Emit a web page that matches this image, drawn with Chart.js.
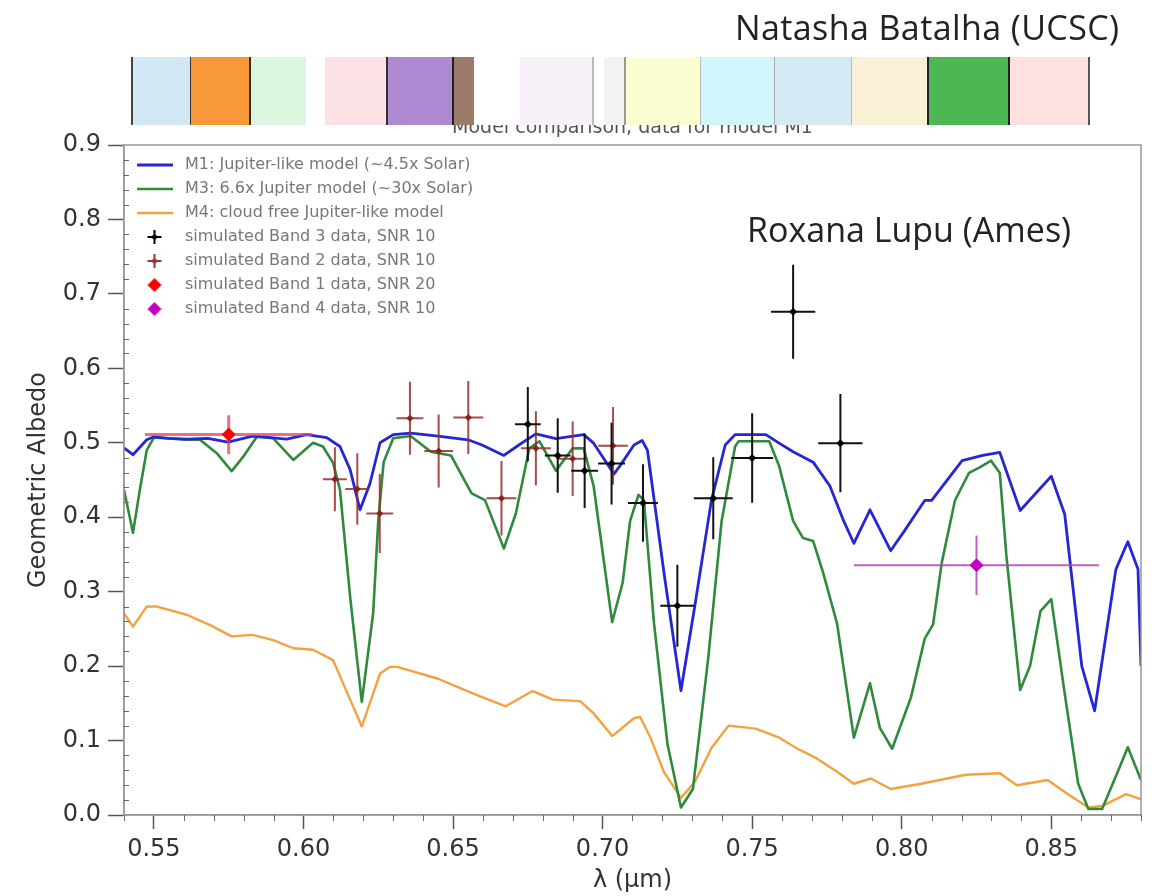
<!DOCTYPE html>
<html>
<head>
<meta charset="utf-8">
<script src="https://cdn.jsdelivr.net/npm/chart.js@4.4.1/dist/chart.umd.min.js"></script>
<style>
  html, body { margin: 0; padding: 0; background: #fff; }
  #wrap { position: relative; width: 1160px; height: 896px; overflow: hidden; }
  #chart { position: absolute; left: 0; top: 0; }
  .note { position: absolute; font-family: "Open Sans", sans-serif; color: #222; white-space: nowrap; line-height: 1; }
  #plotTitle { position: absolute; left: 124px; width: 1017px; top: 117px; text-align: center;
    font-family: "DejaVu Sans", sans-serif; font-size: 19px; line-height: 1; color: #555; }
  #strip { position: absolute; left: 0; top: 57px; width: 1160px; height: 68px; }
  #strip div { position: absolute; top: 0; height: 100%; }
</style>
</head>
<body>
<div id="wrap">
  <canvas id="chart" width="1160" height="896"></canvas>
  <div id="plotTitle">Model comparison, data for model M1</div>
  <div id="strip"></div>
  <div class="note" style="left:735px; top:10px; font-size:34px; letter-spacing:0.4px;">Natasha Batalha (UCSC)</div>
  <div class="note" style="left:747px; top:212px; font-size:34px;">Roxana Lupu (Ames)</div>
</div>
<script>
// tick values
const xTicks = [0.55, 0.60, 0.65, 0.70, 0.75, 0.80, 0.85];
const yTicks = [0.0, 0.1, 0.2, 0.3, 0.4, 0.5, 0.6, 0.7, 0.8, 0.9];

// M1: Jupiter-like model
const m1Wave = [0.540,0.543,0.5476,0.550,0.555,0.561,0.568,0.5748,0.583,0.589,0.5944,0.601,0.6078,0.6122,0.6156,0.6189,
  0.6222,0.6256,0.630,0.6358,0.645,0.655,0.6597,0.667,0.672,0.6777,0.6844,0.6937,0.697,0.7038,0.7058,0.7105,0.7132,0.715,
  0.7205,0.7262,0.7308,0.7364,0.741,0.7443,0.7546,0.759,0.7637,0.7704,0.776,0.7806,0.784,0.7894,0.7963,0.8008,0.8077,
  0.810,0.8202,0.8271,0.8328,0.8396,0.850,0.8545,0.8602,0.8645,0.8716,0.8756,0.8790,0.880];
const m1Albedo = [0.493,0.484,0.504,0.508,0.506,0.505,0.506,0.501,0.509,0.507,0.505,0.511,0.507,0.495,0.464,0.41,
  0.445,0.50,0.511,0.513,0.509,0.504,0.497,0.483,0.497,0.512,0.5055,0.511,0.4995,0.458,0.469,0.497,0.503,0.49,
  0.326,0.167,0.28,0.423,0.497,0.511,0.511,0.4995,0.488,0.474,0.442,0.395,0.365,0.41,0.355,0.381,0.4225,
  0.4225,0.476,0.483,0.487,0.409,0.455,0.404,0.2,0.14,0.33,0.367,0.33,0.2];

// M3: 6.6x Jupiter model
const m3Wave = [0.540,0.543,0.5453,0.5476,0.550,0.561,0.5654,0.571,0.576,0.5798,0.5844,0.5899,0.5966,0.6032,0.6065,0.6099,
  0.6122,0.6156,0.6195,0.6233,0.6250,0.6268,0.630,0.6358,0.6426,0.6493,0.6562,0.6607,0.667,0.671,0.6755,0.6789,0.6844,
  0.690,0.6937,0.697,0.7032,0.7067,0.7092,0.712,0.7138,0.7172,0.7217,0.7262,0.7302,0.7353,0.7398,0.7443,0.7455,0.7557,
  0.759,0.7637,0.767,0.7704,0.7737,0.7784,0.784,0.7894,0.7927,0.7968,0.8031,0.8077,0.8105,0.8134,0.8178,0.8225,0.8259,
  0.8299,0.8328,0.835,0.8396,0.8429,0.8464,0.850,0.8545,0.859,0.8624,0.867,0.8716,0.8756,0.880];
const m3Albedo = [0.437,0.379,0.437,0.49,0.507,0.504,0.504,0.486,0.462,0.481,0.508,0.506,0.477,0.50,0.495,0.473,
  0.437,0.293,0.152,0.271,0.395,0.474,0.506,0.509,0.488,0.483,0.432,0.423,0.358,0.405,0.4925,0.502,0.4625,
  0.4925,0.4925,0.442,0.259,0.312,0.395,0.430,0.423,0.257,0.095,0.01,0.035,0.21,0.395,0.495,0.502,0.502,
  0.469,0.395,0.372,0.368,0.326,0.257,0.104,0.177,0.117,0.089,0.158,0.237,0.256,0.339,0.4225,0.4595,0.4665,
  0.476,0.4595,0.348,0.168,0.2,0.274,0.29,0.163,0.042,0.008,0.008,0.052,0.091,0.047];

// M4: cloud free Jupiter-like model
const m4Wave = [0.540,0.543,0.5476,0.551,0.561,0.5688,0.576,0.583,0.5899,0.5966,0.6032,0.6099,0.6156,0.6195,0.6256,0.629,
  0.6313,0.645,0.6562,0.6676,0.6766,0.6834,0.6925,0.697,0.7032,0.7105,0.7125,0.716,0.7205,0.7262,0.7308,0.7364,0.7421,
  0.7512,0.759,0.7647,0.7716,0.7784,0.784,0.7897,0.7963,0.8065,0.8214,0.8328,0.8385,0.8488,0.8556,0.8624,0.867,0.875,0.880];
const m4Albedo = [0.271,0.253,0.28,0.28,0.269,0.255,0.24,0.242,0.235,0.224,0.222,0.208,0.155,0.119,0.19,0.199,
  0.199,0.183,0.164,0.146,0.1665,0.155,0.153,0.1365,0.106,0.13,0.132,0.104,0.058,0.023,0.044,0.09,0.12,
  0.116,0.104,0.09,0.076,0.058,0.042,0.049,0.035,0.042,0.054,0.056,0.04,0.047,0.028,0.01,0.012,0.028,0.021];

// simulated data points with error bars
const band3Wave = [0.675, 0.685, 0.694, 0.703, 0.7135, 0.725, 0.737, 0.750, 0.7637, 0.7795];
const band3Albedo = [0.525, 0.483, 0.4625, 0.472, 0.419, 0.281, 0.4255, 0.4796, 0.676, 0.4995];
const band3WaveErr = [0.0043, 0.0043, 0.0045, 0.0045, 0.005, 0.0057, 0.0065, 0.007, 0.0074, 0.0074];
const band3AlbedoErr = [0.05, 0.05, 0.05, 0.055, 0.052, 0.055, 0.055, 0.06, 0.063, 0.066];

const band2Wave = [0.6105, 0.618, 0.6255, 0.6356, 0.6452, 0.6551, 0.6662, 0.6777, 0.690, 0.7035];
const band2Albedo = [0.451, 0.438, 0.405, 0.533, 0.489, 0.534, 0.4255, 0.4925, 0.4785, 0.496];
const band2WaveErr = [0.004, 0.004, 0.0045, 0.0045, 0.0048, 0.005, 0.005, 0.005, 0.005, 0.005];
const band2AlbedoErr = [0.043, 0.048, 0.053, 0.049, 0.049, 0.049, 0.05, 0.05, 0.05, 0.052];

const band1Wave = [0.575];
const band1Albedo = [0.511];
const band1WaveErr = [0.028];
const band1AlbedoErr = [0.026];

const band4Wave = [0.825];
const band4Albedo = [0.3355];
const band4WaveErr = [0.041];
const band4AlbedoErr = [0.04];

// colour strip above the plot (decoration from the slide)
const stripBands = [
  [131, 133, '#444'], [133, 190, '#d3e8f5'], [190, 191, '#333'], [191, 249, '#f7983a'], [249, 251, '#3a2a1a'],
  [251, 306, '#dcf5de'], [306, 325, '#ffffff'], [325, 386, '#fde2e5'], [386, 388, '#333'], [388, 452, '#ae8ad2'],
  [452, 454, '#222'], [454, 474, '#9c7b6a'], [474, 520, '#ffffff'], [520, 592, '#f8f0f9'], [592, 594, '#bbb'],
  [594, 604, '#ffffff'], [604, 624, '#f2f2f2'], [624, 626, '#999'], [626, 700, '#fdfdd2'], [700, 701, '#bbb'],
  [701, 774, '#d2f5fb'], [774, 775, '#aaa'], [775, 851, '#d4ebf6'], [851, 852, '#bbb'], [852, 927, '#f8f1d6'],
  [927, 929, '#222'], [929, 1008, '#4cb853'], [1008, 1010, '#222'], [1010, 1088, '#fde0df'], [1088, 1090, '#555']
];

const strip = document.getElementById('strip');
stripBands.forEach(([x0, x1, c]) => {
  const d = document.createElement('div');
  d.style.left = x0 + 'px';
  d.style.width = (x1 - x0) + 'px';
  d.style.background = c;
  strip.appendChild(d);
});

function toPoints(xs, ys) {
  return xs.map((x, i) => ({ x: x, y: ys[i] }));
}

function lineIcon(color, width) {
  const c = document.createElement('canvas');
  c.width = 36; c.height = 8;
  const g = c.getContext('2d');
  g.strokeStyle = color; g.lineWidth = width;
  g.beginPath(); g.moveTo(0, 4); g.lineTo(36, 4); g.stroke();
  return c;
}

function markIcon(color, r, arm) {
  const c = document.createElement('canvas');
  c.width = 18; c.height = 18;
  const g = c.getContext('2d');
  g.strokeStyle = color; g.fillStyle = color; g.lineWidth = 2;
  if (arm) {
    g.beginPath();
    g.moveTo(9 - arm, 9); g.lineTo(9 + arm, 9);
    g.moveTo(9, 9 - arm); g.lineTo(9, 9 + arm);
    g.stroke();
  }
  g.beginPath();
  g.moveTo(9, 9 - r); g.lineTo(9 + r, 9); g.lineTo(9, 9 + r); g.lineTo(9 - r, 9);
  g.closePath(); g.fill();
  return c;
}

// error bars drawn under each dataset's own markers
const errorBars = {
  id: 'errorBars',
  beforeDatasetDraw(chart, args) {
    const ds = chart.data.datasets[args.index];
    if (!ds.xErr) return;
    const xs = chart.scales.x, ys = chart.scales.y, ctx = chart.ctx;
    ctx.save();
    ctx.strokeStyle = ds.errColor;
    ctx.lineWidth = ds.errWidth;
    ds.data.forEach((p, i) => {
      const px = xs.getPixelForValue(p.x), py = ys.getPixelForValue(p.y);
      ctx.beginPath();
      ctx.moveTo(xs.getPixelForValue(p.x - ds.xErr[i]), py);
      ctx.lineTo(xs.getPixelForValue(p.x + ds.xErr[i]), py);
      ctx.moveTo(px, ys.getPixelForValue(p.y - ds.yErr[i]));
      ctx.lineTo(px, ys.getPixelForValue(p.y + ds.yErr[i]));
      ctx.stroke();
    });
    ctx.restore();
  }
};

// the chartArea legend comes back with top = 0, put it inside the axes box
const legendInside = {
  id: 'legendInside',
  afterLayout(chart) {
    const lg = chart.legend;
    if (!lg) return;
    lg.top = chart.chartArea.top + 4;
    lg.bottom = lg.top + lg.height;
  }
};

// matplotlib-like box frame and minor ticks
const frame = {
  id: 'frame',
  afterDraw(chart) {
    const { ctx, chartArea: a } = chart;
    const xs = chart.scales.x, ys = chart.scales.y;
    ctx.save();
    ctx.strokeStyle = '#999';
    ctx.lineWidth = 1.5;
    ctx.strokeRect(a.left, a.top, a.right - a.left, a.bottom - a.top);
    ctx.strokeStyle = '#666';
    ctx.lineWidth = 1;
    ctx.beginPath();
    for (let k = 54; k <= 88; k++) {
      if (k % 5 === 0) continue;
      const px = Math.round(xs.getPixelForValue(k / 100)) + 0.5;
      ctx.moveTo(px, a.bottom); ctx.lineTo(px, a.bottom + 6);
    }
    for (let k = 0; k <= 90; k += 2) {
      if (k % 10 === 0) continue;
      const py = Math.round(ys.getPixelForValue(k / 100)) + 0.5;
      ctx.moveTo(a.left, py); ctx.lineTo(a.left + 5, py);
    }
    ctx.stroke();
    ctx.restore();
  }
};

const tickFont = { family: 'DejaVu Sans', size: 24 };

new Chart(document.getElementById('chart'), {
  type: 'scatter',
  data: {
    datasets: [
      {
        label: 'M1: Jupiter-like model (~4.5x Solar)',
        data: toPoints(m1Wave, m1Albedo),
        showLine: true, pointRadius: 0, borderColor: '#2626d2', borderWidth: 2.8, order: 3,
        borderJoinStyle: 'round',
        legendIcon: lineIcon('#2626d2', 2.8)
      },
      {
        label: 'M3: 6.6x Jupiter model (~30x Solar)',
        data: toPoints(m3Wave, m3Albedo),
        showLine: true, pointRadius: 0, borderColor: '#2f8a3c', borderWidth: 2.6, order: 4,
        borderJoinStyle: 'round',
        legendIcon: lineIcon('#2f8a3c', 2.6)
      },
      {
        label: 'M4: cloud free Jupiter-like model',
        data: toPoints(m4Wave, m4Albedo),
        showLine: true, pointRadius: 0, borderColor: '#f2a23e', borderWidth: 2.4, order: 5,
        borderJoinStyle: 'round',
        legendIcon: lineIcon('#f2a23e', 2.4)
      },
      {
        label: 'simulated Band 3 data, SNR 10',
        data: toPoints(band3Wave, band3Albedo),
        pointStyle: 'rectRot', pointRadius: 4, backgroundColor: '#000', borderColor: '#000', borderWidth: 0, order: 0,
        xErr: band3WaveErr, yErr: band3AlbedoErr, errColor: '#111', errWidth: 2,
        legendIcon: markIcon('#000', 3.5, 7)
      },
      {
        label: 'simulated Band 2 data, SNR 10',
        data: toPoints(band2Wave, band2Albedo),
        pointStyle: 'rectRot', pointRadius: 3.5, backgroundColor: '#8a2020', borderColor: '#8a2020', borderWidth: 0, order: 1,
        xErr: band2WaveErr, yErr: band2AlbedoErr, errColor: 'rgba(150,45,45,0.85)', errWidth: 2,
        legendIcon: markIcon('#8e3a3a', 3.5, 7)
      },
      {
        label: 'simulated Band 1 data, SNR 20',
        data: toPoints(band1Wave, band1Albedo),
        pointStyle: 'rectRot', pointRadius: 7, backgroundColor: '#ff0000', borderColor: '#ff0000', borderWidth: 0, order: 2,
        xErr: band1WaveErr, yErr: band1AlbedoErr, errColor: 'rgba(235,60,90,0.75)', errWidth: 3,
        legendIcon: markIcon('#ff0000', 7, 0)
      },
      {
        label: 'simulated Band 4 data, SNR 10',
        data: toPoints(band4Wave, band4Albedo),
        pointStyle: 'rectRot', pointRadius: 7, backgroundColor: '#c400c4', borderColor: '#c400c4', borderWidth: 0, order: 2,
        xErr: band4WaveErr, yErr: band4AlbedoErr, errColor: 'rgba(175,70,175,0.85)', errWidth: 2,
        legendIcon: markIcon('#c400c4', 7, 0)
      }
    ]
  },
  options: {
    responsive: false,
    animation: false,
    layout: { padding: { top: 145, right: 19, bottom: 0, left: 0 } },
    plugins: {
      tooltip: { enabled: false },
      legend: {
        position: 'chartArea',
        align: 'start',
        labels: {
          usePointStyle: true,
          pointStyleWidth: 45,
          padding: 8,
          color: '#777',
          font: { family: 'DejaVu Sans', size: 16 },
          sort: (a, b) => a.datasetIndex - b.datasetIndex,
          generateLabels: (chart) => Chart.defaults.plugins.legend.labels.generateLabels(chart).map((item) => {
            item.pointStyle = chart.data.datasets[item.datasetIndex].legendIcon;
            return item;
          })
        }
      }
    },
    scales: {
      x: {
        type: 'linear',
        min: 0.54,
        max: 0.88,
        afterBuildTicks: (s) => { s.ticks = xTicks.map((v) => ({ value: v })); },
        afterFit: (s) => { s.height = 81; },
        ticks: { callback: (v) => Number(v).toFixed(2), font: tickFont, color: '#333', padding: 6, maxRotation: 0 },
        grid: { drawOnChartArea: false, drawTicks: true, tickLength: 14, tickWidth: 1.5, color: '#555' },
        border: { color: '#999', width: 1.5 },
        title: { display: true, text: 'λ (μm)', color: '#333', font: { family: 'DejaVu Sans', size: 24 }, padding: { top: 0, bottom: 1 } }
      },
      y: {
        type: 'linear',
        min: 0,
        max: 0.9,
        afterBuildTicks: (s) => { s.ticks = yTicks.map((v) => ({ value: v })); },
        afterFit: (s) => { s.width = 124; },
        ticks: { callback: (v) => Number(v).toFixed(1), font: tickFont, color: '#333', padding: 7 },
        grid: { drawOnChartArea: false, drawTicks: true, tickLength: 16, tickWidth: 1.5, color: '#555' },
        border: { color: '#999', width: 1.5 },
        title: { display: true, text: 'Geometric Albedo', color: '#333', font: { family: 'DejaVu Sans', size: 24 }, padding: { top: 24, bottom: 0 } }
      }
    }
  },
  plugins: [errorBars, legendInside, frame]
});
</script>
</body>
</html>
